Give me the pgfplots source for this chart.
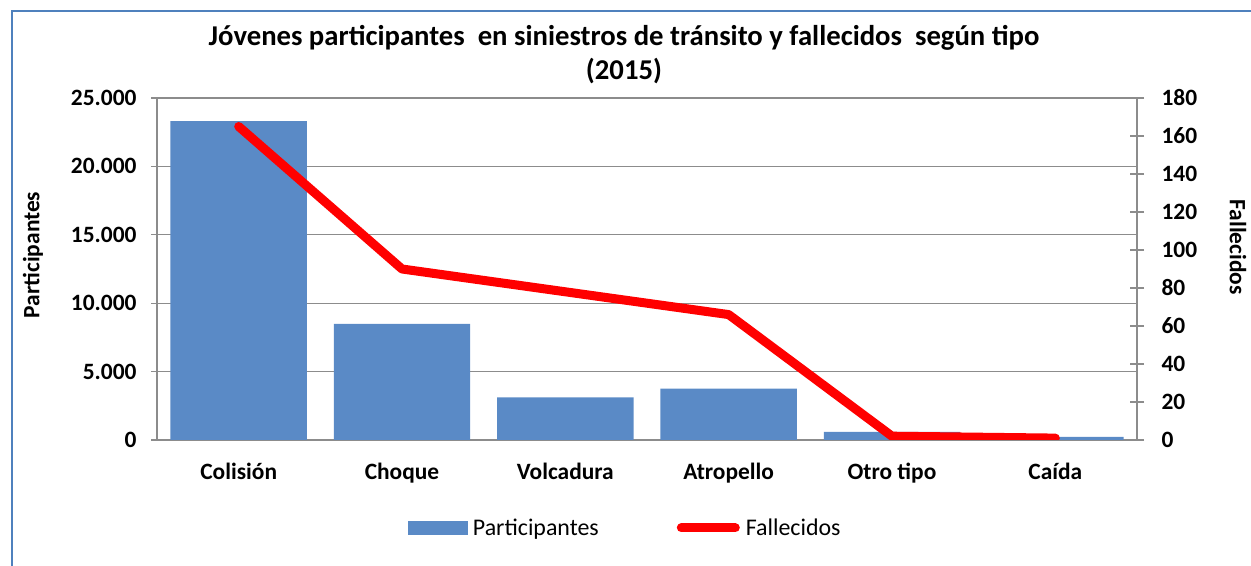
\documentclass[border=0pt]{standalone}
\usepackage{pgfplots}
\pgfplotsset{compat=1.18}
\usepackage{fontspec}
\setmainfont{Carlito}
\definecolor{barblue}{HTML}{5A8AC6}
\definecolor{framebl}{HTML}{4F81BD}
\definecolor{axgray}{HTML}{8C8C8C}
\definecolor{linered}{HTML}{FF0000}
\begin{document}
\begin{tikzpicture}[x=1bp,y=1bp]
\path[use as bounding box] (0,0) rectangle (1251,566);
\draw[framebl, line width=2.5bp] (12,-10) -- (12,555) -- (1270,555);
\node[font=\bfseries\fontsize{28.8}{34}\selectfont, align=center] at (624,511)
  {Jóvenes participantes \ en siniestros de tránsito y fallecidos \ según tipo\\(2015)};
\begin{axis}[
  at={(157bp,126bp)}, anchor=south west, width=980bp, height=342bp, scale only axis,
  xmin=-0.5, xmax=5.5, ymin=0, ymax=25000,
  axis x line*=bottom, axis y line*=left,
  axis line style={axgray, line width=1.3bp},
  ytick={0,5000,10000,15000,20000,25000},
  ymajorgrids, grid style={axgray, line width=1.3bp},
  tick align=outside, major tick length=6bp,
  tick style={axgray, line width=1.3bp},
  xtick={0,1,2,3,4,5},
  xticklabels={Colisión,Choque,Volcadura,Atropello,Otro tipo,Caída},
  xtick style={draw=none},
  xticklabel style={font=\bfseries\fontsize{23.5}{28}\selectfont, yshift=-14bp},
  yticklabel style={font=\bfseries\fontsize{23.5}{28}\selectfont, xshift=-11bp},
  scaled y ticks=false,
  /pgf/number format/.cd, 1000 sep={.}, assume math mode=true, /pgfplots/.cd,
  ylabel={Participantes},
  ylabel style={font=\bfseries\fontsize{23.5}{28}\selectfont, at={(axis description cs:-0.1265,0.541)}, anchor=center},
]
\addplot[ybar, bar width=0.835, fill=barblue, draw=none] coordinates {
  (0,23300) (1,8480) (2,3120) (3,3750) (4,600) (5,230)
};
\end{axis}
\begin{axis}[
  at={(157bp,126bp)}, anchor=south west, width=980bp, height=342bp, scale only axis,
  xmin=-0.5, xmax=5.5, ymin=0, ymax=180,
  axis x line=none, axis y line*=right,
  axis line style={axgray, line width=1.3bp},
  ytick={0,20,...,180},
  tick align=center, major tick length=14bp,
  tick style={axgray, line width=1.3bp},
  yticklabel style={font=\bfseries\fontsize{23.5}{28}\selectfont, xshift=14bp},
  /pgf/number format/.cd, assume math mode=true, /pgfplots/.cd,
  ylabel={Fallecidos},
  ylabel style={font=\bfseries\fontsize{23.5}{28}\selectfont, at={(axis description cs:1.103,0.564)}, anchor=center, rotate=180},
  legend columns=2,
  legend style={draw=none, fill=none, at={(axis description cs:0.4776,-0.257)}, anchor=center,
    font=\fontsize{24}{28}\selectfont,
    /tikz/every odd column/.append style={column sep=4bp},
    /tikz/every even column/.append style={column sep=76bp}},
]
\addlegendimage{legend image code/.code={\fill[barblue] (0bp,-6.5bp) rectangle (59bp,6.5bp);}}
\addlegendentry{Participantes}
\addplot[linered, line width=9bp, line cap=round, line join=round,
  legend image code/.code={\draw[linered, line width=9bp, line cap=round] (4bp,0bp) -- (58bp,0bp);}]
  coordinates {(0,165) (1,90) (2,78) (3,66) (4,2) (5,1)};
\addlegendentry{Fallecidos}
\end{axis}
\end{tikzpicture}
\end{document}
